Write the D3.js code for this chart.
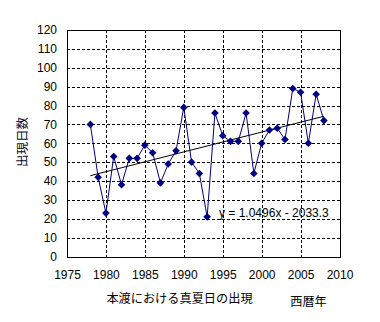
<!DOCTYPE html>
<html>
<head>
<meta charset="utf-8">
<script src="https://cdn.jsdelivr.net/npm/d3@7"></script>
<style>
  html, body { margin: 0; padding: 0; background: #fff; }
  svg { display: block; }
</style>
</head>
<body>
<svg id="chart" width="380" height="322"></svg>
<script>
// 本渡の真夏日日数（年ごと）
const years = [1978, 1979, 1980, 1981, 1982, 1983, 1984, 1985, 1986, 1987,
               1988, 1989, 1990, 1991, 1992, 1993, 1994, 1995, 1996, 1997,
               1998, 1999, 2000, 2001, 2002, 2003, 2004, 2005, 2006, 2007, 2008];
const days = [70, 42, 23, 53, 38, 52, 52, 59, 55, 39,
              49, 56, 79, 50, 44, 21, 76, 64, 61, 61,
              76, 44, 60, 67, 68, 62, 89, 87, 60, 86, 72];

// 線形近似 y = a x + b
const trendSlope = 1.0496;
const trendIntercept = -2033.3;
const trendLabel = "y = 1.0496x - 2033.3";

const xTicks = [1975, 1980, 1985, 1990, 1995, 2000, 2005, 2010];
const yTicks = [0, 10, 20, 30, 40, 50, 60, 70, 80, 90, 100, 110, 120];

const xTitle = "本渡における真夏日の出現";
const xUnit = "西暦年";
const yTitle = "出現日数";

const plot = { left: 67, right: 339.5, top: 30, bottom: 256.5 };
const navy = "#000080";
const numFont = "'Liberation Sans', Arial, sans-serif";
const jpFont = "'Noto Sans CJK JP', sans-serif";

const svg = d3.select("#chart");

const x = d3.scaleLinear().domain([1975, 2010]).range([plot.left, plot.right]);
const y = d3.scaleLinear().domain([0, 120]).range([plot.bottom, plot.top]);

// 目盛線（破線）
const grid = svg.append("g")
  .attr("stroke", "#000")
  .attr("stroke-width", 1)
  .attr("stroke-dasharray", "3,2")
  .attr("shape-rendering", "crispEdges");

grid.selectAll("line.h")
  .data(yTicks.filter(v => v > 0 && v < 120))
  .join("line")
  .attr("class", "h")
  .attr("x1", plot.left).attr("x2", plot.right)
  .attr("y1", d => Math.round(y(d)) + 0.5)
  .attr("y2", d => Math.round(y(d)) + 0.5);

grid.selectAll("line.v")
  .data(xTicks.filter(v => v > 1975 && v < 2010))
  .join("line")
  .attr("class", "v")
  .attr("y1", plot.top).attr("y2", plot.bottom)
  .attr("x1", d => Math.round(x(d)) + 0.5)
  .attr("x2", d => Math.round(x(d)) + 0.5);

// 枠
svg.append("rect")
  .attr("x", plot.left + 0.5).attr("y", plot.top + 0.5)
  .attr("width", plot.right - plot.left).attr("height", plot.bottom - plot.top)
  .attr("fill", "none").attr("stroke", "#000").attr("stroke-width", 1)
  .attr("shape-rendering", "crispEdges");

// 軸目盛ラベル
const yAxis = d3.axisLeft(y).tickValues(yTicks).tickSize(0).tickPadding(10);
const yg = svg.append("g").attr("transform", `translate(${plot.left},0)`).call(yAxis);
yg.select(".domain").remove();
yg.selectAll("text")
  .attr("font-family", numFont).attr("font-size", 12).attr("fill", "#000");

const xAxis = d3.axisBottom(x).tickValues(xTicks).tickSize(0).tickPadding(14).tickFormat(d3.format("d"));
const xg = svg.append("g").attr("transform", `translate(0,${plot.bottom})`).call(xAxis);
xg.select(".domain").remove();
xg.selectAll("text")
  .attr("font-family", numFont).attr("font-size", 12).attr("fill", "#000");

// 近似直線
const tx0 = years[0], tx1 = years[years.length - 1];
svg.append("line")
  .attr("x1", x(tx0)).attr("y1", y(trendSlope * tx0 + trendIntercept))
  .attr("x2", x(tx1)).attr("y2", y(trendSlope * tx1 + trendIntercept))
  .attr("stroke", "#000").attr("stroke-width", 1);

// 折れ線
const data = years.map((yr, i) => ({ year: yr, value: days[i] }));
svg.append("path")
  .datum(data)
  .attr("fill", "none")
  .attr("stroke", navy)
  .attr("stroke-width", 1)
  .attr("d", d3.line().x(d => x(d.year)).y(d => y(d.value)));

// マーカー（ひし形）
svg.append("g").selectAll("path")
  .data(data)
  .join("path")
  .attr("transform", d => `translate(${x(d.year)},${y(d.value)})`)
  .attr("d", "M0,-3.8L3.8,0L0,3.8L-3.8,0Z")
  .attr("fill", navy);

// 近似式ラベル
svg.append("text")
  .attr("x", 219).attr("y", 216.5)
  .attr("font-family", numFont).attr("font-size", 12).attr("fill", "#000")
  .text(trendLabel);

// 軸タイトル
svg.append("text")
  .attr("x", 179.5).attr("y", 303)
  .attr("text-anchor", "middle")
  .attr("font-family", jpFont).attr("font-size", 12.2).attr("fill", "#000")
  .text(xTitle);

svg.append("text")
  .attr("x", 308.5).attr("y", 305.5)
  .attr("text-anchor", "middle")
  .attr("font-family", jpFont).attr("font-size", 12.2).attr("fill", "#000")
  .text(xUnit);

svg.append("text")
  .attr("transform", "translate(26.5,142) rotate(-90)")
  .attr("text-anchor", "middle")
  .attr("font-family", jpFont).attr("font-size", 12.5).attr("fill", "#0a0a30")
  .text(yTitle);
</script>
</body>
</html>
